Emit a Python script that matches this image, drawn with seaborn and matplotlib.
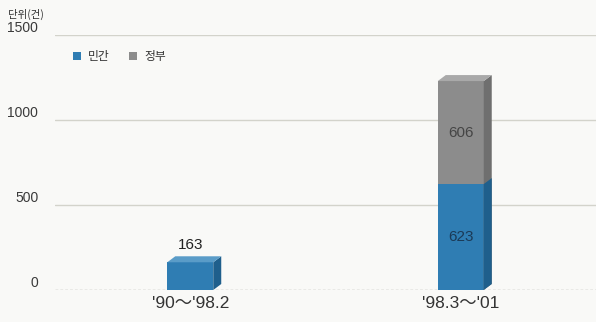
import matplotlib
matplotlib.use("Agg")
import matplotlib.pyplot as plt
import seaborn as sns
import pandas as pd
from matplotlib.patches import Polygon, Patch

categories = ["'90～'98.2", "'98.3～'01"]
private = [163, 623]
government = [0, 606]
series_names = ["민간", "정부"]
unit_label = "단위(건)"
yticks = [0, 500, 1000, 1500]

blue = "#2f7db3"
blue_top = "#5a9cc8"
blue_side = "#1f5f8c"
gray = "#8c8c8c"
gray_top = "#a9a9a9"
gray_side = "#6f6f6f"
bg = "#f9f9f7"

sns.set_theme(style="white")
plt.rcParams['font.family'] = ['Liberation Sans', 'Noto Sans CJK KR', 'DejaVu Sans']
kr = ['Noto Sans CJK KR', 'DejaVu Sans']

df = pd.DataFrame({"cat": categories, "priv": private, "gov": government})
df["total"] = df["priv"] + df["gov"]

fig = plt.figure(figsize=(5.96, 3.22), dpi=100, facecolor=bg)
W, H = 596, 322
ax = fig.add_axes([55 / W, (H - 290) / H, (596 - 55) / W, 255 / H])
ax.set_facecolor(bg)

sns.barplot(data=df, x="cat", y="total", color=gray, width=0.17, ax=ax,
            saturation=1, zorder=3, linewidth=0)
sns.barplot(data=df, x="cat", y="priv", color=blue, width=0.17, ax=ax,
            saturation=1, zorder=3, linewidth=0)

ax.set_xlim(-0.5, 1.5)
ax.set_ylim(0, 1500)
ax.set_yticks(yticks)
ax.set_yticklabels([str(t) for t in yticks])
ax.set_xlabel("")
ax.set_ylabel("")
for s in ax.spines.values():
    s.set_visible(False)

for t in yticks[1:]:
    ax.axhline(t, color="#d3d3cb", lw=1.0, zorder=1)
ax.axhline(0, color="#a9a9a2", lw=1.0, ls=(0, (2, 1.5)), zorder=1)

ax.tick_params(axis="y", length=0, pad=12, labelsize=10, labelcolor="#3a3a3a")
ax.tick_params(axis="x", length=0, pad=4, labelsize=12.5, labelcolor="#333333")
for lab in ax.get_yticklabels():
    lab.set_verticalalignment("bottom")

# 3D faces derived from seaborn bar patches
fig.canvas.draw()
inv = ax.transData.inverted()
dx_px, dy_px = 8, 6
p0 = inv.transform((0, 0))
p1 = inv.transform((dx_px, dy_px))
ddx, ddy = p1[0] - p0[0], p1[1] - p0[1]

rects = [p for p in ax.patches]
n = len(categories)
total_rects = rects[:n]
priv_rects = rects[n:2 * n]

for i in range(n):
    tr = total_rects[i]
    pr = priv_rects[i]
    x0 = tr.get_x()
    x1 = x0 + tr.get_width()
    ytot = tr.get_height()
    ypr = pr.get_height()
    top_is_gov = df["gov"].iloc[i] > 0
    if top_is_gov:
        ax.add_patch(Polygon([(x1, 0), (x1 + ddx, ddy), (x1 + ddx, ytot + ddy), (x1, ytot)],
                             closed=True, fc=gray_side, ec="none", zorder=3, clip_on=False))
    ax.add_patch(Polygon([(x1, 0), (x1 + ddx, ddy), (x1 + ddx, ypr + ddy), (x1, ypr)],
                         closed=True, fc=blue_side, ec="none", zorder=3, clip_on=False))
    ax.add_patch(Polygon([(x0, ytot), (x1, ytot), (x1 + ddx, ytot + ddy), (x0 + ddx, ytot + ddy)],
                         closed=True, fc=gray_top if top_is_gov else blue_top, ec="none",
                         zorder=3, clip_on=False))
    cx = x0 + tr.get_width() / 2
    if top_is_gov:
        ax.text(cx, ypr + df["gov"].iloc[i] / 2, str(df["gov"].iloc[i]), ha="center", va="center",
                fontsize=11, color="#454545", zorder=4)
        ax.text(cx, ypr / 2, str(df["priv"].iloc[i]), ha="center", va="center",
                fontsize=11, color="#1b3a57", zorder=4)
    else:
        ax.text(cx, ytot + ddy + 25, str(df["priv"].iloc[i]), ha="center", va="bottom",
                fontsize=11, color="#222222", zorder=4)

handles = [Patch(fc=blue, ec="none"), Patch(fc=gray, ec="none")]
ax.legend(handles, series_names, loc="upper left", bbox_to_anchor=(0.022, 0.965),
          frameon=False, handlelength=0.7, handleheight=0.7, handletextpad=0.6,
          columnspacing=1.6, ncol=2, borderpad=0, prop={"family": kr, "size": 8.5},
          labelcolor="#333333")

fig.text(8 / W, 1 - 14 / H, unit_label, fontsize=7.5, color="#333333", va="center", ha="left",
         family=kr)

fig.savefig("out.png", dpi=100, facecolor=bg)
